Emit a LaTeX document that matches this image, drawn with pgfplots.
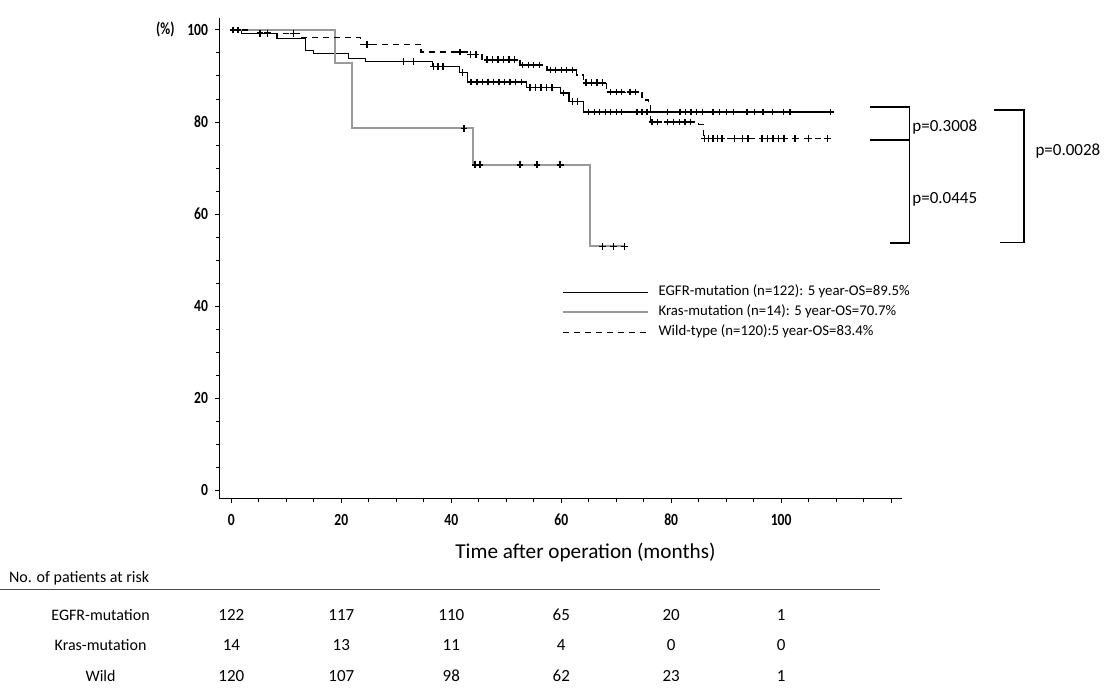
\documentclass[border=0pt]{standalone}
\usepackage{pgfplots}
\pgfplotsset{compat=1.18}
\usepackage{fontspec}
\setmainfont{Carlito}
\newfontfamily\narrowfont[FakeStretch=0.8]{Carlito}

\begin{document}
\begin{tikzpicture}
\begin{axis}[
  scale only axis,
  width=341.5pt, height=240.25pt,
  xmin=-2.18, xmax=122,
  ymin=-1.8, ymax=102.5,
  axis x line*=bottom, axis y line*=left,
  axis line style={line width=0.7pt},
  xtick={0,20,...,120},
  xticklabels={0,20,40,60,80,100,{}},
  ytick={0,20,...,100},
  minor x tick num=3, minor y tick num=3,
  tick align=outside,
  major tick length=2.2pt, minor tick length=1.6pt,
  tick style={black, line width=0.5pt},
  /pgf/number format/assume math mode=true,
  tick label style={font=\narrowfont\bfseries\fontsize{8.5}{10}\selectfont},
  xticklabel style={yshift=-2pt},
  clip=false,
  legend style={at={(axis cs:58.9,45.6)}, anchor=north west, draw=none, fill=none,
    font=\fontsize{7.4}{8}\selectfont, row sep=2.5pt,
    nodes={inner sep=0.5pt, text height=5pt, text depth=1.5pt},
    /tikz/every odd column/.append style={column sep=4.5pt}},
  legend cell align=left,
  legend image code/.code={\draw[#1] (0pt,0pt) -- (42.5pt,0pt);},
]
% EGFR-mutation
\addplot[const plot, black, line width=0.6pt] coordinates {
  (0,100) (1.9,99.3) (8.3,98.2) (13.5,95.5) (15,94.8) (21.3,93.8) (24.4,93.1)
  (36.6,92.1) (41.5,90.8) (43,88.7) (53.7,87.5) (59.8,86.3) (61.4,84.4)
  (64,82.2) (109,82.2)};
\addlegendentry{EGFR-mutation (n=122): 5 year-OS=89.5\%}
% Kras-mutation
\addplot[const plot, black!40, line width=1pt] coordinates {
  (0,100) (18.9,92.9) (21.9,78.6) (44,70.7) (65.3,53.0) (71.5,53.0)};
\addlegendentry{Kras-mutation (n=14): 5 year-OS=70.7\%}
% Wild-type
\addplot[const plot, black, line width=0.6pt, dash pattern=on 3pt off 2.5pt] coordinates {
  (0,100) (3.5,99.2) (12.5,98.4) (23.5,96.9) (34.5,95.2) (42.9,94.6) (45.6,93.5)
  (52.5,92.4) (57.4,91.3) (62.8,90.2) (64,88.5) (68.3,86.5) (74.7,84.8)
  (75.9,83.7) (76.3,80.0) (85,79.5) (85.8,76.4) (108.4,76.4)};
\addlegendentry{Wild-type (n=120):5 year-OS=83.4\%}

% censored observations
\addplot[forget plot, only marks, mark=+, mark size=1.7pt, black, line width=0.7pt] coordinates {
  (0.3,100) (1.2,100) (5.2,99.3) (6.6,99.3) (31.3,93.1) (33.1,93.1)
  (36.8,92.1) (37.6,92.1) (38.5,92.1) (42,90.8)
  (43.6,88.7) (44.7,88.7) (45.7,88.7) (46.7,88.7) (47.7,88.7) (48.7,88.7)
  (49.7,88.7) (50.7,88.7) (51.7,88.7) (52.8,88.7)
  (54.3,87.5) (55.3,87.5) (56.3,87.5) (57.3,87.5) (58.3,87.5) (60.4,86.3)
  (62,84.4) (63,84.4)
  (65,82.2) (66,82.2) (67,82.2) (68,82.2) (69,82.2) (70,82.2) (71,82.2)
  (73.8,82.2) (74.7,82.2) (75.6,82.2) (79.3,82.2) (81.6,82.2) (82.6,82.2)
  (83.6,82.2) (84.6,82.2) (85.7,82.2) (87.6,82.2) (88.8,82.2) (90,82.2)
  (91.3,82.2) (93.8,82.2) (95.2,82.2) (96.7,82.2) (98.4,82.2) (100.4,82.2)
  (101.6,82.2) (109,82.2)};
\addplot[forget plot, only marks, mark=+, mark size=1.7pt, black, line width=0.7pt] coordinates {
  (42.3,78.6) (44.3,70.7) (45.2,70.7) (52.5,70.7) (55.6,70.7) (59.8,70.7)
  (67.5,53) (69.5,53) (71.5,53)};
\addplot[forget plot, only marks, mark=+, mark size=1.7pt, black, line width=0.7pt] coordinates {
  (11.3,99.2) (24.7,96.9) (41.6,95.2) (43.5,94.6) (44.5,94.6)
  (46.5,93.5) (47.5,93.5) (48.5,93.5) (49.5,93.5) (50.5,93.5) (51.5,93.5)
  (53,92.4) (54,92.4) (55,92.4) (56,92.4)
  (58,91.3) (59,91.3) (60,91.3) (61,91.3) (62,91.3)
  (64.5,88.5) (65.5,88.5) (66.5,88.5) (67.5,88.5)
  (69,86.5) (70,86.5) (71,86.5) (72.5,86.5) (73.5,86.5)
  (76.5,80) (77.5,80) (79.3,80) (80.4,80) (81.5,80) (82.5,80) (83.5,80)
  (86,76.4) (86.8,76.4) (87.6,76.4) (88.4,76.4) (89.2,76.4) (91.5,76.4)
  (93,76.4) (94,76.4) (96.5,76.4) (97.5,76.4) (98.5,76.4) (99.5,76.4)
  (100.5,76.4) (102.5,76.4) (105,76.4) (108.4,76.4)};

% p-value brackets
\draw[line width=0.7pt] (axis cs:116.2,83.3) -- (axis cs:123.3,83.3) -- (axis cs:123.3,53.7) -- (axis cs:119.8,53.7);
\draw[line width=0.7pt] (axis cs:116.2,76.1) -- (axis cs:123.3,76.1);
\draw[line width=0.7pt] (axis cs:138.7,82.6) -- (axis cs:144.2,82.6) -- (axis cs:144.2,53.9) -- (axis cs:139.8,53.9);
\node[anchor=west, inner sep=0pt, font=\fontsize{8.5}{10}\selectfont] at (axis cs:123.8,78.9) {p=0.3008};
\node[anchor=west, inner sep=0pt, font=\fontsize{8.5}{10}\selectfont] at (axis cs:123.8,63.3) {p=0.0445};
\node[anchor=west, inner sep=0pt, font=\fontsize{8.5}{10}\selectfont] at (axis cs:146.2,73.7) {p=0.0028};

% axis titles
\node[font=\narrowfont\bfseries\fontsize{8.5}{10}\selectfont] at (axis cs:-12,100) {(\%)};
\node[font=\fontsize{10.6}{12}\selectfont] at (axis cs:64.4,-13.5) {Time after operation (months)};

% number at risk
\node[anchor=west, inner sep=0pt, font=\fontsize{8}{9}\selectfont] at (axis cs:-40.5,-19.0) {No. of patients at risk};
\draw[line width=0.5pt, black!70] (axis cs:-42,-21.6) -- (axis cs:118,-21.6);
\node[font=\fontsize{8}{9}\selectfont] at (axis cs:-23.8,-27.0) {EGFR-mutation};
\node[font=\fontsize{8}{9}\selectfont] at (axis cs:-23.8,-33.5) {Kras-mutation};
\node[font=\fontsize{8}{9}\selectfont] at (axis cs:-23.8,-40.2) {Wild};
\node[font=\fontsize{8.5}{9}\selectfont] at (axis cs:0,-27.0) {122};
\node[font=\fontsize{8.5}{9}\selectfont] at (axis cs:20,-27.0) {117};
\node[font=\fontsize{8.5}{9}\selectfont] at (axis cs:40,-27.0) {110};
\node[font=\fontsize{8.5}{9}\selectfont] at (axis cs:60,-27.0) {65};
\node[font=\fontsize{8.5}{9}\selectfont] at (axis cs:80,-27.0) {20};
\node[font=\fontsize{8.5}{9}\selectfont] at (axis cs:100,-27.0) {1};
\node[font=\fontsize{8.5}{9}\selectfont] at (axis cs:0,-33.5) {14};
\node[font=\fontsize{8.5}{9}\selectfont] at (axis cs:20,-33.5) {13};
\node[font=\fontsize{8.5}{9}\selectfont] at (axis cs:40,-33.5) {11};
\node[font=\fontsize{8.5}{9}\selectfont] at (axis cs:60,-33.5) {4};
\node[font=\fontsize{8.5}{9}\selectfont] at (axis cs:80,-33.5) {0};
\node[font=\fontsize{8.5}{9}\selectfont] at (axis cs:100,-33.5) {0};
\node[font=\fontsize{8.5}{9}\selectfont] at (axis cs:0,-40.2) {120};
\node[font=\fontsize{8.5}{9}\selectfont] at (axis cs:20,-40.2) {107};
\node[font=\fontsize{8.5}{9}\selectfont] at (axis cs:40,-40.2) {98};
\node[font=\fontsize{8.5}{9}\selectfont] at (axis cs:60,-40.2) {62};
\node[font=\fontsize{8.5}{9}\selectfont] at (axis cs:80,-40.2) {23};
\node[font=\fontsize{8.5}{9}\selectfont] at (axis cs:100,-40.2) {1};

% page extent
\path (axis cs:-42,-42.4) rectangle (axis cs:158.9,106.5);
\end{axis}
\end{tikzpicture}
\end{document}
